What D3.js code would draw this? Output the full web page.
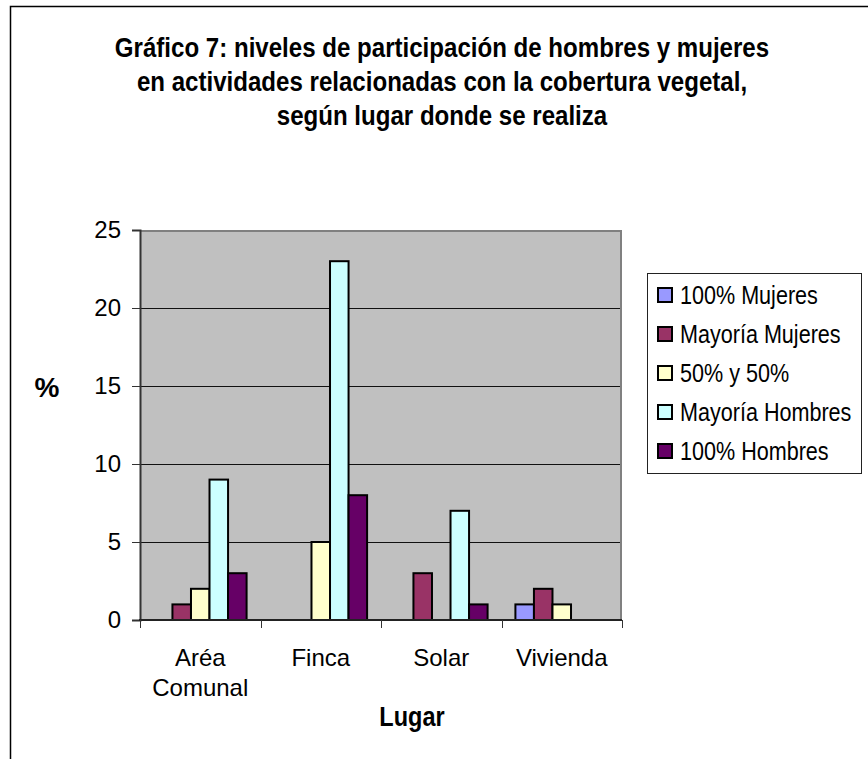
<!DOCTYPE html>
<html>
<head>
<meta charset="utf-8">
<script src="https://cdn.jsdelivr.net/npm/d3@7"></script>
<style>
  body { margin: 0; background: #fff; }
  text { font-family: "Liberation Sans", Arial, sans-serif; }
</style>
</head>
<body>
<svg id="chart" width="868" height="759"></svg>
<script>
// data
const categories = ["Aréa|Comunal", "Finca", "Solar", "Vivienda"];
const seriesNames = ["100% Mujeres", "Mayoría Mujeres", "50% y 50%", "Mayoría Hombres", "100% Hombres"];
const seriesColors = ["#9999ff", "#993366", "#ffffcc", "#ccffff", "#660066"];
const mujeres100 = [0, 0, 0, 1];
const mayoriaMujeres = [1, 0, 3, 2];
const mitad = [2, 5, 0, 1];
const mayoriaHombres = [9, 23, 7, 0];
const hombres100 = [3, 8, 1, 0];
const yTicks = [0, 5, 10, 15, 20, 25];
const titleLines = [
  "Gráfico 7: niveles de participación de hombres y mujeres",
  "en actividades relacionadas con la cobertura vegetal,",
  "según lugar donde se realiza"
];

const allSeries = [mujeres100, mayoriaMujeres, mitad, mayoriaHombres, hombres100];

const svg = d3.select("#chart");

// no narrow font installed, so squeeze the normal one horizontally
function narrowText(parent, x, y, k) {
  return parent.append("text")
    .attr("transform", `translate(${x},${y}) scale(${k},1)`);
}

// outer frame (only left and top are in view)
svg.append("path")
  .attr("d", "M10.5,759 L10.5,6.5 L868,6.5")
  .attr("fill", "none")
  .attr("stroke", "#000")
  .attr("stroke-width", 1.5);

// title
titleLines.forEach((line, i) => {
  narrowText(svg, 442, 57 + i * 34, 0.86)
    .attr("text-anchor", "middle")
    .attr("font-weight", "bold")
    .attr("font-size", 28)
    .text(line);
});

const plot = { left: 140, top: 230, right: 622, bottom: 620 };

const x0 = d3.scaleBand()
  .domain(categories)
  .range([plot.left, plot.right])
  .paddingInner(0)
  .paddingOuter(0);

// Excel style gap width of 150%
const bw = x0.bandwidth() / 6.5;
const x1 = d3.scaleBand()
  .domain(seriesNames)
  .range([bw * 0.75, x0.bandwidth() - bw * 0.75]);

const y = d3.scaleLinear()
  .domain([0, 25])
  .range([plot.bottom, plot.top]);

// plot background
svg.append("rect")
  .attr("x", plot.left)
  .attr("y", plot.top)
  .attr("width", plot.right - plot.left)
  .attr("height", plot.bottom - plot.top)
  .attr("fill", "#c0c0c0");

// grid lines
svg.append("g")
  .selectAll("line")
  .data(yTicks.filter(t => t > 0 && t < 25))
  .enter()
  .append("line")
  .attr("x1", plot.left)
  .attr("x2", plot.right)
  .attr("y1", d => Math.round(y(d)) + 0.5)
  .attr("y2", d => Math.round(y(d)) + 0.5)
  .attr("stroke", "#111")
  .attr("stroke-width", 1);

// top and right border of plot area
svg.append("path")
  .attr("d", `M${plot.left},${plot.top + 1} L${plot.right - 1},${plot.top + 1} L${plot.right - 1},${plot.bottom}`)
  .attr("fill", "none")
  .attr("stroke", "#808080")
  .attr("stroke-width", 2);

// bars
const groups = svg.append("g")
  .selectAll("g")
  .data(categories)
  .enter()
  .append("g")
  .attr("transform", d => `translate(${x0(d)},0)`);

groups.selectAll("rect")
  .data((c, ci) => seriesNames.map((s, si) => ({ s, si, v: allSeries[si][ci] })).filter(d => d.v > 0))
  .enter()
  .append("rect")
  .attr("x", d => x1(d.s))
  .attr("y", d => y(d.v))
  .attr("width", x1.bandwidth())
  .attr("height", d => y(0) - y(d.v))
  .attr("fill", d => seriesColors[d.si])
  .attr("stroke", "#000")
  .attr("stroke-width", 2);

// y axis
const yAxis = d3.axisLeft(y)
  .tickValues(yTicks)
  .tickSize(8)
  .tickPadding(11)
  .tickFormat(d3.format("d"));
const yAxisGroup = svg.append("g")
  .attr("transform", `translate(${plot.left},0)`)
  .call(yAxis);
yAxisGroup.select(".domain").attr("stroke", "#333").attr("stroke-width", 2);
yAxisGroup.selectAll("line").attr("stroke", "#333");
yAxisGroup.selectAll("text")
  .attr("font-size", 24)
  .attr("fill", "#000")
  .attr("font-family", "Liberation Sans, Arial, sans-serif");

// x axis: ticks on category boundaries
svg.append("line")
  .attr("x1", plot.left - 1)
  .attr("x2", plot.right)
  .attr("y1", plot.bottom)
  .attr("y2", plot.bottom)
  .attr("stroke", "#222")
  .attr("stroke-width", 2);
const bounds = categories.map(c => x0(c)).concat([plot.right]);
svg.append("g")
  .selectAll("line")
  .data(bounds)
  .enter()
  .append("line")
  .attr("x1", d => Math.round(d) + 0.5)
  .attr("x2", d => Math.round(d) + 0.5)
  .attr("y1", plot.bottom)
  .attr("y2", plot.bottom + 8)
  .attr("stroke", "#333");

// category labels
const catText = svg.append("g")
  .selectAll("text")
  .data(categories)
  .enter()
  .append("text")
  .attr("text-anchor", "middle")
  .attr("font-size", 24)
  .attr("fill", "#000");
catText.selectAll("tspan")
  .data(d => d.split("|").map(p => ({ p, c: d })))
  .enter()
  .append("tspan")
  .attr("x", d => x0(d.c) + x0.bandwidth() / 2)
  .attr("y", (d, i) => 666 + i * 30)
  .text(d => d.p);

// axis titles
narrowText(svg, 412, 726, 0.84)
  .attr("text-anchor", "middle")
  .attr("font-weight", "bold")
  .attr("font-size", 28)
  .text("Lugar");

svg.append("text")
  .attr("text-anchor", "middle")
  .attr("font-weight", "bold")
  .attr("font-size", 28)
  .attr("x", 47)
  .attr("y", 397)
  .text("%");

// legend
const legend = svg.append("g");
legend.append("rect")
  .attr("x", 647.5)
  .attr("y", 273.5)
  .attr("width", 214)
  .attr("height", 200)
  .attr("fill", "#fff")
  .attr("stroke", "#222")
  .attr("stroke-width", 1);

const items = legend.selectAll("g.item")
  .data(seriesNames)
  .enter()
  .append("g")
  .attr("class", "item")
  .attr("transform", (d, i) => `translate(657,${295 + i * 39})`);
items.append("rect")
  .attr("x", 1)
  .attr("y", -7)
  .attr("width", 14)
  .attr("height", 14)
  .attr("fill", (d, i) => seriesColors[i])
  .attr("stroke", "#000")
  .attr("stroke-width", 2);
items.each(function (d) {
  narrowText(d3.select(this), 23, 9, 0.83)
    .attr("font-size", 26)
    .attr("fill", "#000")
    .text(d);
});
</script>
</body>
</html>
